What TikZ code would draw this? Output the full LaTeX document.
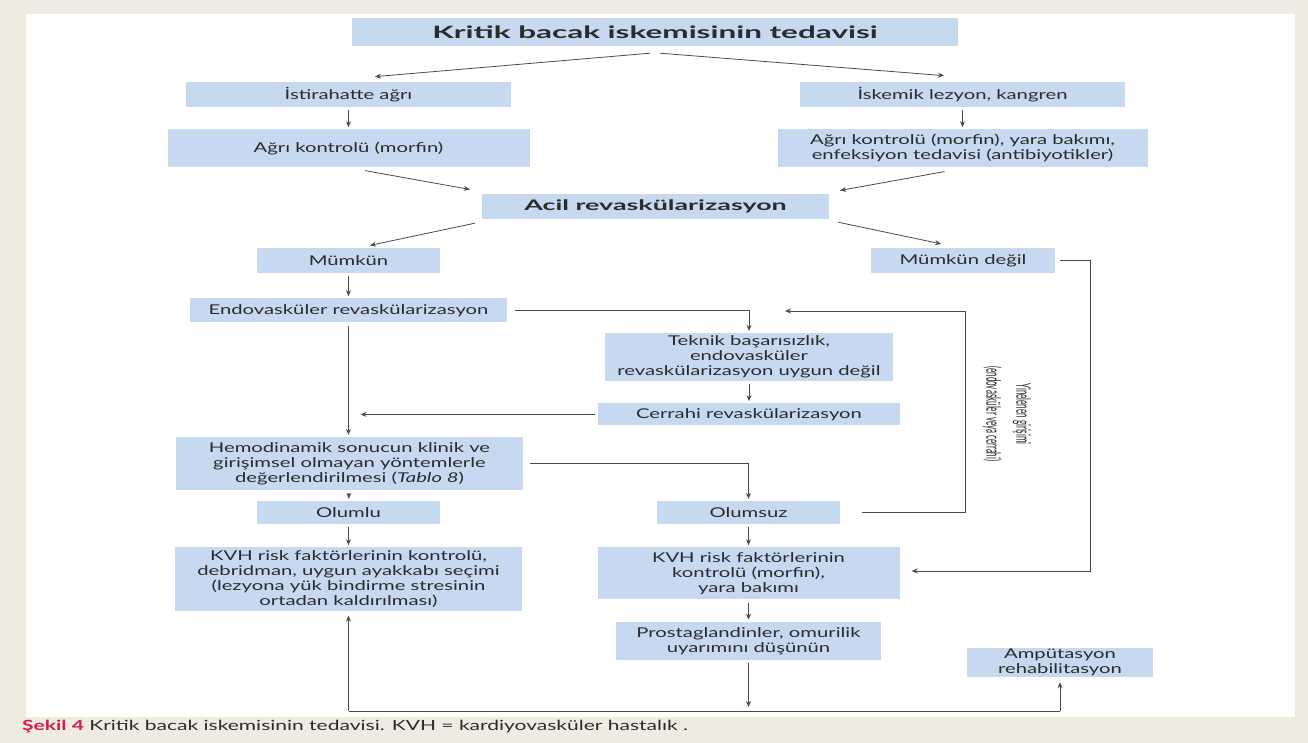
\documentclass[tikz,border=0pt]{standalone}
\usepackage{fontspec}
\setmainfont[FakeStretch=1.5]{Lato}
\newfontfamily\headfont[FakeStretch=1.85]{Lato}
\newfontfamily\narrowfont[FakeStretch=0.4]{Lato}
\usetikzlibrary{arrows.meta,positioning,calc}
\definecolor{FlowBlue}{HTML}{C6D9F0}
\definecolor{FlowPaper}{HTML}{EEEBE1}
\definecolor{FlowLine}{HTML}{4A4A4A}
\definecolor{FlowText}{HTML}{2B2B2B}
\definecolor{FlowRed}{HTML}{D3204A}

\begin{document}
\begin{tikzpicture}[x=1pt,y=-1pt,
  font=\fontsize{13.5}{15}\selectfont,
  box/.style={fill=FlowBlue,text=FlowText,align=center,inner sep=0pt},
  head/.style={box,font=\fontsize{17}{19}\selectfont\headfont\bfseries},
  arr/.style={-{Stealth[length=6pt,width=5pt]},draw=FlowLine,line width=0.8pt,
    shorten <=3pt,shorten >=2pt},
  link/.style={draw=FlowLine,line width=0.8pt}
]
% page and panel
\fill[FlowPaper] (0,0) rectangle (1308,743);
\fill[white] (26,14) rectangle (1295,717);
\useasboundingbox (0,0) rectangle (1308,743);

% boxes
\node[head,minimum width=606pt,minimum height=28pt] (title) at (655,32)
  {Kritik bacak iskemisinin tedavisi};
\node[box,minimum width=325pt,minimum height=25pt] (rest) at (348.5,94.5)
  {İstirahatte ağrı};
\node[box,minimum width=325pt,minimum height=25pt] (lesion) at (962.5,94.5)
  {İskemik lezyon, kangren};
\node[box,minimum width=362pt,minimum height=38pt,below=22pt of rest] (pain)
  {Ağrı kontrolü (morfin)};
\node[box,minimum width=370pt,minimum height=38pt,below=22pt of lesion] (care)
  {Ağrı kontrolü (morfin), yara bakımı,\\enfeksiyon tedavisi (antibiyotikler)};
\node[head,font=\fontsize{14.5}{16}\selectfont\headfont\bfseries,
  minimum width=347pt,minimum height=25pt] (urgent) at (655.5,206.5)
  {Acil revaskülarizasyon};
\node[box,minimum width=183pt,minimum height=25pt] (yes) at (348.5,260.5)
  {Mümkün};
\node[box,minimum width=184pt,minimum height=24pt] (no) at (963,260.5)
  {Mümkün değil};
\node[box,minimum width=317pt,minimum height=24pt,below=25pt of yes] (endo)
  {Endovasküler revaskülarizasyon};
\node[box,minimum width=288pt,minimum height=48pt] (fail) at (749,357)
  {Teknik başarısızlık,\\endovasküler\\revaskülarizasyon uygun değil};
\node[box,minimum width=302pt,minimum height=22pt,below=22pt of fail] (surgery)
  {Cerrahi revaskülarizasyon};
\node[box,minimum width=347pt,minimum height=53pt] (hemo) at (349.5,463.5)
  {Hemodinamik sonucun klinik ve\\girişimsel olmayan yöntemlerle\\
   değerlendirilmesi (\textit{Tablo 8})};
\node[box,minimum width=183pt,minimum height=23pt] (good) at (348.5,512.5)
  {Olumlu};
\node[box,minimum width=183pt,minimum height=23pt] (bad) at (748.5,512.5)
  {Olumsuz};
\node[box,minimum width=347pt,minimum height=64pt,below=23pt of good] (riskgood)
  {KVH risk faktörlerinin kontrolü,\\debridman, uygun ayakkabı seçimi\\
   (lezyona yük bindirme stresinin\\ortadan kaldırılması)};
\node[box,minimum width=302pt,minimum height=52pt,below=23pt of bad] (riskbad)
  {KVH risk faktörlerinin\\kontrolü (morfin),\\yara bakımı};
\node[box,minimum width=265pt,minimum height=38pt,below=22pt of riskbad] (prosta)
  {Prostaglandinler, omurilik\\uyarımını düşünün};
\node[box,minimum width=186pt,minimum height=29pt] (amput) at (1060,662.5)
  {Ampütasyon\\rehabilitasyon};

% helper points
\coordinate (redo) at (965,311);
\coordinate (reentry) at (785,311);
\coordinate (outer) at (1090,571);
\coordinate (floor) at (748,711);

% connectors
\draw[arr,shorten <=0pt] ([xshift=-5pt,yshift=-7pt]title.south) --
  ([xshift=24.5pt,yshift=5pt]rest.north);
\draw[arr,shorten <=0pt] ([xshift=5pt,yshift=-7pt]title.south) --
  ([xshift=-16.5pt,yshift=6pt]lesion.north);
\draw[arr] (rest) -- (pain);
\draw[arr] (lesion) -- (care);
\draw[arr,shorten <=0pt] ([xshift=16.5pt,yshift=-3pt]pain.south) --
  ([xshift=-10pt,yshift=4pt]urgent.north west);
\draw[arr,shorten <=0pt] ([xshift=-18pt,yshift=-4pt]care.south) --
  ([xshift=9pt,yshift=3pt]urgent.north east);
\draw[arr,shorten <=0pt] ([xshift=-7pt,yshift=-4pt]urgent.south west) --
  ([xshift=19.5pt,yshift=2pt]yes.north);
\draw[arr,shorten <=0pt] ([xshift=9pt,yshift=-3pt]urgent.south east) --
  ([xshift=-20pt,yshift=4pt]no.north);
\draw[arr] (yes) -- (endo);
\draw[arr,shorten <=8pt] (endo.east) -| (fail.north);
\draw[arr] (endo.south) -- (endo.south |- hemo.north);
\draw[arr] (fail) -- (surgery);
\draw[arr,shorten >=12pt] (surgery.west) -- (surgery.west -| endo.south);
\draw[arr,shorten <=7pt] (hemo.east) -| (bad.north);
\draw[arr] (hemo) -- (good);
\draw[arr] (good) -- (riskgood);
\draw[arr] (bad) -- (riskbad);
\draw[arr] (riskbad) -- (prosta);
\draw[arr,shorten <=22pt,shorten >=0pt] (bad.east) -| (redo) -- (reentry);
\draw[arr,shorten <=5pt,shorten >=12pt] (no.east) -| (outer) -- (outer -| riskbad.east);
\draw[arr,shorten >=4pt] (prosta) -- (prosta |- floor);
\draw[link] (floor -| riskgood) -- (floor -| amput);
\draw[arr,shorten <=0pt,shorten >=4pt] (floor -| riskgood) -- (riskgood);
\draw[arr,shorten <=0pt,shorten >=5pt] (floor -| amput) -- (amput);

% side label and caption
\node[rotate=-90,align=center,text=FlowText,
  font=\fontsize{20}{30}\selectfont\narrowfont] (again) at (1007,414)
  {Yinelenen girişimi\\(endovasküler veya cerrahi)};
\node[anchor=west,inner sep=0pt,text=FlowText,
  font=\fontsize{14}{16}\selectfont] (caption) at (22,727)
  {\textcolor{FlowRed}{\bfseries Şekil 4} Kritik bacak iskemisinin tedavisi.
   KVH = kardiyovasküler hastalık .};
\end{tikzpicture}
\end{document}
